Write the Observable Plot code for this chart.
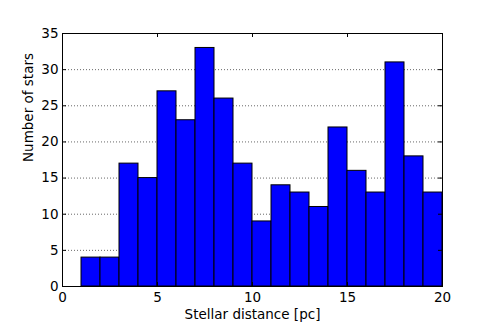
<!DOCTYPE html>
<html>
<head>
<meta charset="utf-8">
<script src="https://cdn.jsdelivr.net/npm/d3@7"></script>
<script src="https://cdn.jsdelivr.net/npm/@observablehq/plot@0.6"></script>
<style>
  html, body { margin: 0; padding: 0; background: #fff; }
  #chart svg { display: block; }
</style>
</head>
<body>
<div id="chart"></div>
<script>
const binEdges = [1, 2, 3, 4, 5, 6, 7, 8, 9, 10, 11, 12, 13, 14, 15, 16, 17, 18, 19, 20];
const counts = [4, 4, 17, 15, 27, 23, 33, 26, 17, 9, 14, 13, 11, 22, 16, 13, 31, 18, 13];
const xTicks = [0, 5, 10, 15, 20];
const yTicks = [0, 5, 10, 15, 20, 25, 30, 35];
const xLabel = "Stellar distance [pc]";
const yLabel = "Number of stars";

const W = 491, H = 327;
const mL = 62, mR = 49, mT = 33, mB = 41;
const pW = W - mL - mR, pH = H - mT - mB;
const font = "DejaVu Sans";
const fs = 13.5;

const bins = counts.map((c, i) => ({x1: binEdges[i], x2: binEdges[i + 1], y: c}));

const chart = Plot.plot({
  width: W,
  height: H,
  marginLeft: mL,
  marginRight: mR,
  marginTop: mT,
  marginBottom: mB,
  x: {domain: [0, 20], axis: null},
  y: {domain: [0, 35], axis: null},
  style: {fontFamily: font, background: "#fff"},
  marks: [
    Plot.ruleY(yTicks.slice(1, -1), {y: d => d, stroke: "#000", strokeWidth: 0.6, strokeDasharray: "1,2"}),
    Plot.rectY(bins, {x1: "x1", x2: "x2", y: "y", fill: "#0000ff", stroke: "#000", strokeWidth: 1, inset: 0}),
    Plot.tickX(xTicks, {x: d => d, insetTop: pH - 4, stroke: "#000"}),
    Plot.tickX(xTicks, {x: d => d, insetBottom: pH - 4, stroke: "#000"}),
    Plot.tickY(yTicks, {y: d => d, insetRight: pW - 4, stroke: "#000"}),
    Plot.tickY(yTicks, {y: d => d, insetLeft: pW - 4, stroke: "#000"}),
    Plot.frame({stroke: "#000", strokeWidth: 1}),
    Plot.text(xTicks, {x: d => d, text: d => String(d), frameAnchor: "bottom", dy: 11, lineAnchor: "middle", fontSize: fs, fill: "#000"}),
    Plot.text(yTicks, {y: d => d, text: d => String(d), frameAnchor: "left", dx: -4, textAnchor: "end", lineAnchor: "middle", fontSize: fs, fill: "#000"}),
    Plot.text([xLabel], {text: d => d, frameAnchor: "bottom", dy: 28, dx: 0, lineAnchor: "middle", fontSize: fs, fill: "#000"}),
    Plot.text([yLabel], {text: d => d, frameAnchor: "left", dx: -34, dy: 2, rotate: -90, lineAnchor: "middle", fontSize: fs, fill: "#000"})
  ]
});
document.getElementById("chart").appendChild(chart);
</script>
</body>
</html>
